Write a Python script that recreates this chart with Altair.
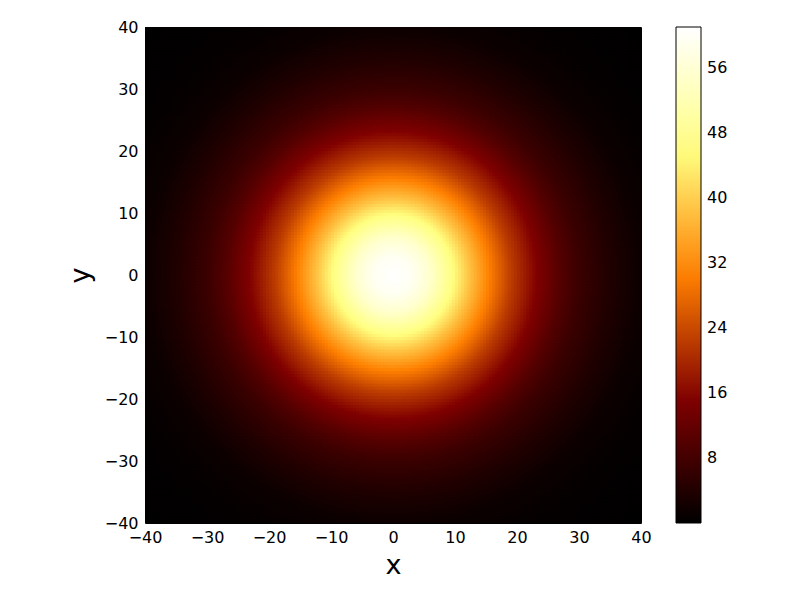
import altair as alt
import numpy as np
import pandas as pd

alt.data_transformers.disable_max_rows()

# Radial profile of the field (distance from centre -> value)
radius = [0, 3, 6, 9.7, 12.5, 15.5, 19, 23.2, 27, 30, 35, 40, 45, 50, 57]
value = [61, 59.5, 55, 45.75, 38, 30.5, 22.5, 15.25, 10, 7, 3.8, 1.5, 0.7, 0.3, 0.1]

x_ticks = [-40, -30, -20, -10, 0, 10, 20, 30, 40]
y_ticks = [-40, -30, -20, -10, 0, 10, 20, 30, 40]
cbar_ticks = [8, 16, 24, 32, 40, 48, 56]
cmap_domain = [0, 15.25, 30.5, 45.75, 61]
cmap_colors = ["#000000", "#800000", "#ff8000", "#ffff80", "#ffffff"]

step = 0.5
overlap = 0.25
lo = np.arange(-40, 40 - 1e-9, step)
X0, Y0 = np.meshgrid(lo, lo)
R = np.hypot(X0 + step / 2, Y0 + step / 2)
V = np.round(np.interp(R, radius, value), 2)
df = pd.DataFrame({
    "x0": X0.ravel(), "x1": (X0 + step + overlap).ravel(),
    "y0": Y0.ravel(), "y1": (Y0 + step + overlap).ravel(),
    "v": V.ravel(),
})

FONT = "DejaVu Sans"
cscale = alt.Scale(domain=cmap_domain, range=cmap_colors, interpolate="rgb")

chart = alt.Chart(df).mark_rect(clip=True, strokeWidth=0).encode(
    x=alt.X("x0:Q", scale=alt.Scale(domain=[-40, 40], nice=False, zero=False),
            axis=alt.Axis(values=x_ticks, format="d", title="x", ticks=False, domain=False,
                          grid=False, labelFont=FONT, labelFontSize=16, labelColor="black",
                          labelPadding=6, labelFlush=False, labelOverlap=False,
                          titleFont=FONT, titleFontSize=27, titleFontWeight="normal",
                          titleColor="black", titlePadding=7)),
    x2="x1:Q",
    y=alt.Y("y0:Q", scale=alt.Scale(domain=[-40, 40], nice=False, zero=False),
            axis=alt.Axis(values=y_ticks, format="d", title="y", ticks=False, domain=False,
                          grid=False, labelFont=FONT, labelFontSize=16, labelColor="black",
                          labelPadding=7, labelFlush=False, labelOverlap=False,
                          titleFont=FONT, titleFontSize=27, titleFontWeight="normal",
                          titleColor="black", titlePadding=10)),
    y2="y1:Q",
    color=alt.Color("v:Q", scale=cscale,
                    legend=alt.Legend(type="gradient", title=None, orient="none",
                                      legendX=531, legendY=0,
                                      direction="vertical", gradientLength=496,
                                      gradientThickness=25, values=cbar_ticks,
                                      labelFont=FONT, labelFontSize=16, labelColor="black",
                                      labelOffset=6, gradientStrokeColor="black",
                                      gradientStrokeWidth=1, padding=0, labelOverlap=False)),
).properties(
    width=496, height=496,
    autosize=alt.AutoSizeParams(type="none"),
    padding={"left": 137, "top": 19, "right": 151, "bottom": 69},
).configure_view(stroke="black", strokeWidth=1)

chart.save("out.html", embed_options={"renderer": "svg", "actions": False})
